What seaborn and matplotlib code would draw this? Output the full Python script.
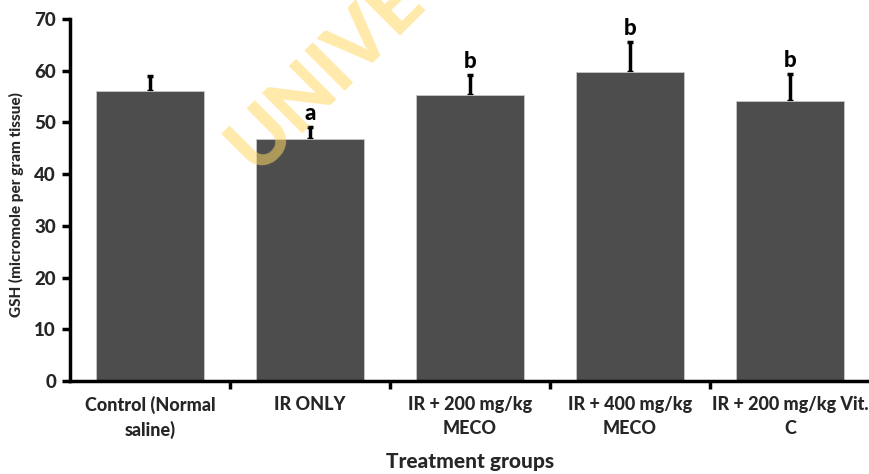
import matplotlib
matplotlib.use("Agg")
import matplotlib.pyplot as plt
import seaborn as sns
import pandas as pd
import numpy as np

groups = ["Control (Normal\nsaline)", "IR ONLY", "IR + 200 mg/kg\nMECO",
          "IR + 400 mg/kg\nMECO", "IR + 200 mg/kg Vit.\nC"]
gsh = [56.0, 46.7, 55.3, 59.7, 54.1]
sem = [3.0, 2.4, 3.9, 5.9, 5.3]
letters = ["", "a", "b", "b", "b"]
yticks = [0, 10, 20, 30, 40, 50, 60, 70]

sns.set_theme(style="white")
plt.rcParams['font.family'] = ['Lato', 'DejaVu Sans']
W = 900

df = pd.DataFrame({"group": groups, "gsh": gsh})

fig = plt.figure(figsize=(8.69, 4.74), dpi=100)
ax = fig.add_axes([70/869, 1-381/474, 800/869, 362/474])

x = np.arange(len(groups))
ax.errorbar(x, gsh, yerr=[np.zeros(len(sem)), sem], fmt="none", ecolor="black",
            elinewidth=2.5, capsize=2.5, capthick=2.5, zorder=0.5)

sns.barplot(data=df, x="group", y="gsh", color="#4d4d4d", saturation=1,
            width=0.67, errorbar=None, ax=ax, edgecolor="#c8c8c8", linewidth=0.6, zorder=1)

for xi, v, e, lab in zip(x, gsh, sem, letters):
    if lab:
        ax.text(xi, v + e + 0.5, lab, ha="center", va="bottom",
                fontsize=16, fontweight=W, color="black")

ax.set_ylim(0, 70)
ax.set_xlim(-0.5, 4.5)
ax.set_yticks(yticks)
ax.set_yticklabels([str(t) for t in yticks], fontsize=13.5, fontweight=W)
ax.set_xticks(x)
ax.set_xticklabels(groups, fontsize=13, fontweight=W, linespacing=1.45)
ax.set_xticks([0.5, 1.5, 2.5, 3.5], minor=True)
ax.tick_params(axis="x", which="major", length=0, pad=11)
ax.tick_params(axis="x", which="minor", length=6, width=2.5, color="black", direction="out", bottom=True)
ax.tick_params(axis="y", which="major", length=6, width=2.5, color="black", direction="out", left=True, pad=4)

for s in ["top", "right"]:
    ax.spines[s].set_visible(False)
for s in ["left", "bottom"]:
    ax.spines[s].set_color("black")
    ax.spines[s].set_linewidth(2.5)

ax.set_ylabel("GSH (micromole per gram tissue)", fontsize=11, fontweight=W)
ax.yaxis.set_label_coords(-(70 - 24) / 800, (381 - 205) / 362)
ax.set_xlabel("Treatment groups", fontsize=15, fontweight=W, labelpad=9)

fig.text(256/869, 1-174/474, "UNIVE", rotation=45, fontsize=56, fontweight=W,
         color="#ffd966", alpha=0.55, ha="left", va="baseline", rotation_mode="anchor", zorder=10)

fig.savefig("out.png", dpi=100)
